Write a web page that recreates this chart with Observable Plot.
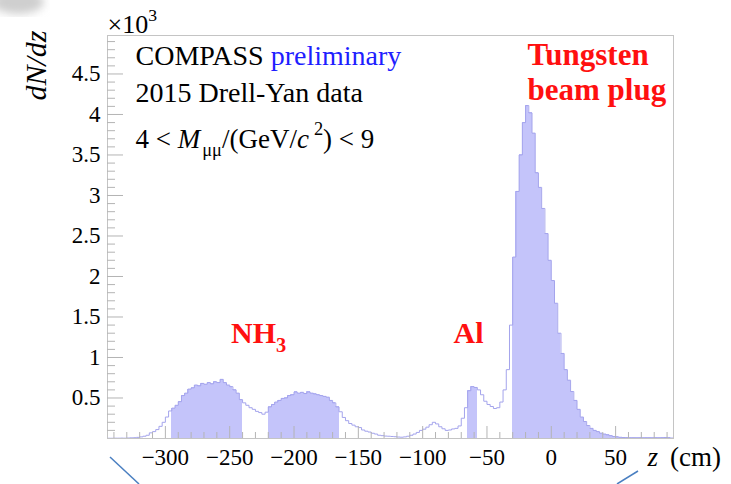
<!DOCTYPE html>
<html><head><meta charset="utf-8">
<script src="https://cdn.jsdelivr.net/npm/d3@7"></script>
<script src="https://cdn.jsdelivr.net/npm/@observablehq/plot@0.6"></script>
<style>
html,body{margin:0;padding:0;background:#fff;}
#wrap{position:relative;width:731px;height:484px;overflow:hidden;}
#wrap svg text{font-family:"Liberation Serif","Times New Roman",serif !important;}
</style></head><body><div id="wrap"></div>
<script>
// Histogram: dN/dz, bins of 2.5 cm starting at z = -345 cm
const zStart = -345;
const binWidth = 2.5;
const counts = [
  3,3,4,4,5,4,6,8,10,14,20,28,40,70,85,110,150,200,265,340,
  375,410,455,530,560,610,625,660,650,680,670,690,675,700,690,730,690,660,640,600,560,480,
  440,410,380,360,335,320,300,325,
  390,420,450,470,495,500,530,540,575,560,570,555,575,560,550,540,530,520,510,470,440,390,
  330,260,220,185,165,145,135,105,90,80,65,55,40,35,30,28,25,22,18,16,
  20,28,40,55,75,100,115,140,170,200,180,145,120,100,105,118,125,155,250,380,
  590,640,630,
  600,540,460,420,395,370,380,450,600,850,1400,
  2240,3050,3500,3900,4110,4020,3770,3280,3100,2840,2530,2200,1950,1670,1300,1050,850,720,580,470,
  360,265,210,160,125,100,85,66,55,45,35,25,20,15,12,10,8,8,7,8,7,8,8,7,9,8,10,12,10,6
];
// target regions (filled): two NH3 cells, Al, tungsten beam plug
const filledRanges = [[-295,-240],[-220,-165],[-65,-57.5],[-30,95]];
const xMajorTicks = [-300,-250,-200,-150,-100,-50,0,50];
const yMajorTicks = [500,1000,1500,2000,2500,3000,3500,4000,4500];

const bins = counts.map((n,i)=>({x1: zStart + i*binWidth, x2: zStart + (i+1)*binWidth, n}));
const filledBins = bins.filter(b => filledRanges.some(([a,c]) => b.x1 >= a - 1e-9 && b.x2 <= c + 1e-9));
const outline = bins.map(b => ({x: b.x1, n: b.n})).concat([{x: bins[bins.length-1].x2, n: bins[bins.length-1].n}]);
const xMinorTicks = d3.range(-340, 95, 10).filter(v => !xMajorTicks.includes(v));
const yMinorTicks = d3.range(100, 4975, 100).filter(v => v % 500 !== 0);

const W = 731, H = 484, ML = 107, MR = 58, MT = 35, MB = 46;
const fw = W - ML - MR, fh = H - MT - MB;
const tickColor = "#b4b4b4";
const red = "#ff1010";
const serif = '"Liberation Serif", "Times New Roman", serif';

const chart = Plot.plot({
  width: W, height: H,
  marginLeft: ML, marginRight: MR, marginTop: MT, marginBottom: MB,
  style: {fontFamily: serif, background: "white", overflow: "visible"},
  x: {domain: [-345, 95]},
  y: {domain: [0, 4975]},
  marks: [
    Plot.rectY(filledBins, {x1: "x1", x2: "x2", y: "n", fill: "#c4c4fa", shapeRendering: "crispEdges"}),
    Plot.line(outline, {x: "x", y: "n", curve: "step-after", stroke: "#a4a4ec", strokeWidth: 1}),
    Plot.frame({stroke: "#c4c4c4"}),
    Plot.tickY(yMinorTicks, {y: d => d, stroke: tickColor, insetRight: fw - 8}),
    Plot.tickY(yMajorTicks, {y: d => d, stroke: tickColor, insetRight: fw - 16}),
    Plot.tickX(xMinorTicks, {x: d => d, stroke: tickColor, insetTop: fh - 6}),
    Plot.tickX(xMajorTicks, {x: d => d, stroke: tickColor, insetTop: fh - 12}),
    Plot.axisX(xMajorTicks, {tickSize: 0, tickPadding: 10, fontSize: 23, label: null, fill: "black"}),
    Plot.axisY(yMajorTicks, {tickSize: 0, tickPadding: 7, fontSize: 23, label: null, fill: "black", tickFormat: d => String(d/1000)}),
    Plot.text(["COMPASS preliminary"], {frameAnchor: "top-left", dx: 28, dy: 29, textAnchor: "start", lineAnchor: "bottom", fontSize: 28}),
    Plot.text(["2015 Drell-Yan data"], {frameAnchor: "top-left", dx: 28, dy: 66, textAnchor: "start", lineAnchor: "bottom", fontSize: 28}),
    Plot.text(["4 < Mμμ/(GeV/c2) < 9"], {frameAnchor: "top-left", dx: 28, dy: 112, textAnchor: "start", lineAnchor: "bottom", fontSize: 27}),
    Plot.text(["NH3"], {x: -249, y: 1175, textAnchor: "start", lineAnchor: "bottom", fontSize: 30, fontWeight: "bold", fill: red}),
    Plot.text(["Al"], {x: -76, y: 1175, textAnchor: "start", lineAnchor: "bottom", fontSize: 30, fontWeight: "bold", fill: red}),
    Plot.text(["Tungsten"], {x: -18.5, y: 4605, textAnchor: "start", lineAnchor: "bottom", fontSize: 31, fontWeight: "bold", fill: red}),
    Plot.text(["beam plug"], {x: -18.5, y: 4173, textAnchor: "start", lineAnchor: "bottom", fontSize: 31, fontWeight: "bold", fill: red}),
    Plot.text(["×103"], {frameAnchor: "top-left", dx: 0, dy: -3, textAnchor: "start", lineAnchor: "bottom", fontSize: 26}),
    Plot.text(["dN/dz"], {frameAnchor: "top-left", dx: -62, dy: -5, rotate: -90, textAnchor: "end", lineAnchor: "bottom", fontSize: 30, fontStyle: "italic"}),
    Plot.text(["z (cm)"], {frameAnchor: "bottom-right", dx: -26, dy: 27, textAnchor: "start", lineAnchor: "bottom", fontSize: 27})
  ]
});

// rich text: subscripts, superscripts, italics, colour
const rich = {
  "COMPASS preliminary": [{t: "COMPASS "}, {t: "preliminary", fill: "#1e1eff"}],
  "4 < Mμμ/(GeV/c2) < 9": [{t: "4 < "}, {t: "M", it: true}, {t: "μμ", sub: true, dx: 2}, {t: "/(GeV/"}, {t: "c", it: true}, {t: "2", sup: true, dx: 5}, {t: ") < 9"}],
  "NH3": [{t: "NH"}, {t: "3", sub: true}],
  "×103": [{t: "×10"}, {t: "3", sup: true}],
  "z (cm)": [{t: "z", it: true}, {t: "(cm)", dx: 12}]
};
d3.select(chart).selectAll("text").each(function() {
  d3.select(this).style("font-family", serif).style("font-variant", "normal");
  const parts = rich[this.textContent];
  if (!parts) return;
  const el = d3.select(this);
  el.text(null);
  let shift = 0;
  for (const p of parts) {
    const ts = el.append("tspan").text(p.t);
    let target = 0;
    if (p.sub) target = 0.3; else if (p.sup) target = -0.45;
    const fs = (p.sub || p.sup) ? 0.68 : 1;
    const dyEm = (target - shift);
    if (dyEm !== 0) ts.attr("dy", (dyEm / fs) + "em");
    shift = target;
    if (p.dx) ts.attr("dx", p.dx);
    if (fs !== 1) ts.attr("font-size", fs + "em");
    if (p.it) ts.attr("font-style", "italic");
    if (p.fill) ts.attr("fill", p.fill);
  }
});

// slide decorations
const svg = d3.select(chart);
const defs = svg.append("defs");
defs.append("filter").attr("id", "blur").append("feGaussianBlur").attr("stdDeviation", 4);
svg.append("ellipse").attr("cx", 18).attr("cy", 2).attr("rx", 26).attr("ry", 12).attr("fill", "#cfcfcf").attr("filter", "url(#blur)");
svg.append("line").attr("x1", 110).attr("y1", 457).attr("x2", 139).attr("y2", 484).attr("stroke", "#4a7fc1").attr("stroke-width", 1.5);
svg.append("line").attr("x1", 617).attr("y1", 484).attr("x2", 638).attr("y2", 471).attr("stroke", "#4a7fc1").attr("stroke-width", 1.5);

document.getElementById("wrap").appendChild(chart);
</script>
</body></html>
